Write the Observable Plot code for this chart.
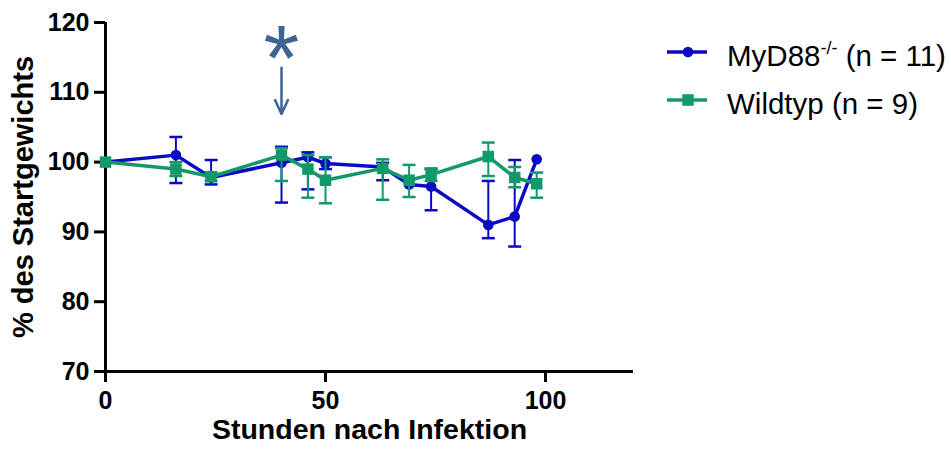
<!DOCTYPE html>
<html>
<head>
<meta charset="utf-8">
<script src="https://cdn.jsdelivr.net/npm/d3@7"></script>
<script src="https://cdn.jsdelivr.net/npm/@observablehq/plot@0.6"></script>
<style>
  html, body { margin: 0; padding: 0; background: white; }
  #chart { position: relative; width: 951px; height: 452px; }
</style>
</head>
<body>
<div id="chart"></div>
<script>
// ---- data ----
const hours   = [0, 16, 24, 40, 46, 50, 63, 69, 74, 87, 93, 98];
const myd88   = [100, 101.0, 97.8, 99.9, 100.7, 99.8, 99.3, 96.8, 96.5, 91.0, 92.2, 100.4];
const myd88Lo = [100, 97.0, 96.8, 94.2, 96.1, 99.0, 97.4, 96.8, 93.1, 89.1, 87.9, 100.4];
const myd88Hi = [100, 103.6, 100.3, 102.2, 101.4, 100.7, 99.9, 96.8, 99.0, 97.3, 100.3, 100.4];
const wt      = [100, 99.0, 97.9, 101.0, 99.0, 97.4, 99.1, 97.4, 98.2, 100.8, 97.8, 96.9];
const wtLo    = [100, 98.0, 97.3, 97.3, 94.9, 94.1, 94.6, 95.0, 97.3, 98.0, 96.4, 94.9];
const wtHi    = [100, 100.0, 98.5, 102.0, 101.0, 100.7, 100.4, 99.6, 99.1, 102.8, 99.3, 98.5];
const xTicks  = [0, 50, 100];
const yTicks  = [70, 80, 90, 100, 110, 120];
const seriesNames = ["MyD88", "Wildtyp"];
const seriesN = [11, 9];
const starX = [40];
const starY = [114.5];
const arrowFrom = [113.5];
const arrowTo = [106.9];

const BLUE = "#0a0ac4";
const GREEN = "#12996a";
const STAR = "#3e6494";
const FONT = "'Liberation Sans', Arial, Helvetica, sans-serif";

const blueData = hours.map((h, i) => ({x: h, y: myd88[i], lo: myd88Lo[i], hi: myd88Hi[i]}));
const greenData = hours.map((h, i) => ({x: h, y: wt[i], lo: wtLo[i], hi: wtHi[i]}));
const starData = starX.map((x, i) => ({x, y: starY[i], y1: arrowFrom[i], y2: arrowTo[i]}));

const cap = {draw(ctx) { ctx.moveTo(-6.5, 0); ctx.lineTo(6.5, 0); }};

function seriesMarks(data, color, symbol, r) {
  const withErr = data.filter(d => d.hi > d.lo);
  return [
    Plot.ruleX(withErr, {x: "x", y1: "lo", y2: "hi", stroke: color, strokeWidth: 2}),
    Plot.dot(withErr, {x: "x", y: "lo", symbol: cap, stroke: color, strokeWidth: 2.5}),
    Plot.dot(withErr, {x: "x", y: "hi", symbol: cap, stroke: color, strokeWidth: 2.5}),
    Plot.line(data, {x: "x", y: "y", stroke: color, strokeWidth: 3.5}),
    Plot.dot(data, {x: "x", y: "y", symbol, r, fill: color, stroke: "none"})
  ];
}

const plot = Plot.plot({
  width: 951,
  height: 452,
  marginLeft: 105,
  marginRight: 318,
  marginTop: 22,
  marginBottom: 81,
  style: {fontFamily: FONT, background: "white", color: "black", overflow: "visible"},
  x: {domain: [0, 120]},
  y: {domain: [70, 120]},
  marks: [
    Plot.axisX({ticks: xTicks, tickSize: 11, tickPadding: 9, fontSize: 25, fontWeight: "bold", strokeWidth: 3, label: null, tickFormat: d => String(d)}),
    Plot.axisY({ticks: yTicks, tickSize: 11, tickPadding: 5, fontSize: 25, fontWeight: "bold", strokeWidth: 3, label: null, tickFormat: d => String(d)}),
    Plot.ruleX([0], {strokeWidth: 3, stroke: "black"}),
    Plot.ruleY([70], {strokeWidth: 3, stroke: "black"}),
    ...seriesMarks(blueData, BLUE, "circle", 5.3),
    ...seriesMarks(greenData, GREEN, "square", 6.5),
    Plot.text(starData, {x: "x", y: "y", text: () => "*", fontSize: 92, fill: STAR, fontFamily: FONT}),
    Plot.arrow(starData, {x1: "x", x2: "x", y1: "y1", y2: "y2", stroke: STAR, strokeWidth: 2.5, headLength: 12, headAngle: 50}),
    Plot.text(["Stunden nach Infektion"], {frameAnchor: "bottom", dy: 67, fontSize: 28.5, fontWeight: "bold", fill: "black"}),
    Plot.text(["% des Startgewichts"], {frameAnchor: "left", textAnchor: "middle", dx: -82, rotate: -90, fontSize: 29, fontWeight: "bold", fill: "black"})
  ]
});

// ---- legend drawn into the same SVG ----
const svg = d3.select(plot);
const legendColors = [BLUE, GREEN];
const legendY = [52, 100];
const lg = svg.append("g").attr("font-family", FONT).attr("text-anchor", "start");
seriesNames.forEach((name, i) => {
  const y = legendY[i];
  const c = legendColors[i];
  lg.append("line").attr("x1", 667).attr("x2", 707).attr("y1", y).attr("y2", y)
    .attr("stroke", c).attr("stroke-width", 3.5);
  if (i === 0) {
    lg.append("circle").attr("cx", 688).attr("cy", y).attr("r", 5.3).attr("fill", c);
  } else {
    lg.append("rect").attr("x", 688 - 5.75).attr("y", y - 5.75).attr("width", 11.5).attr("height", 11.5).attr("fill", c);
  }
  const t = lg.append("text").attr("x", 727).attr("y", y + 14).attr("font-size", 29.5)
    .attr("fill", "black").attr("text-anchor", "start");
  t.append("tspan").text(name);
  if (i === 0) {
    t.append("tspan").attr("font-size", 18).attr("dy", -12).text("-/-");
    t.append("tspan").attr("dy", 12).text(" (n = " + seriesN[i] + ")");
  } else {
    t.append("tspan").text(" (n = " + seriesN[i] + ")");
  }
});

document.getElementById("chart").appendChild(plot);
</script>
</body>
</html>
